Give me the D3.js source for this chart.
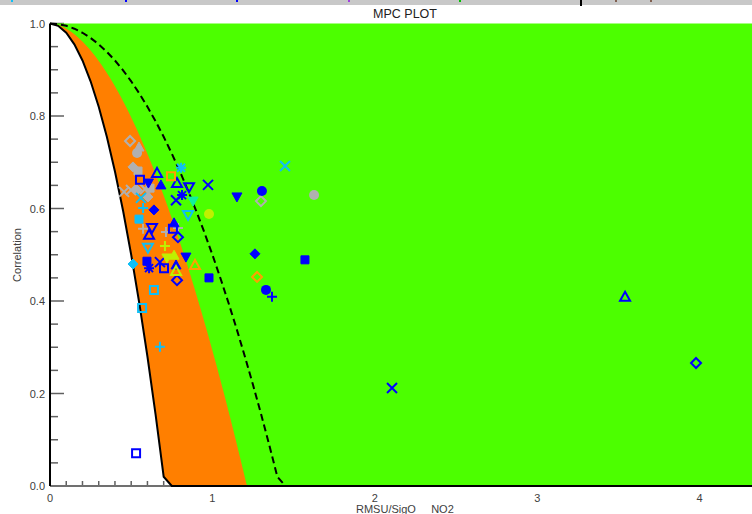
<!DOCTYPE html>
<html>
<head>
<meta charset="utf-8">
<script src="https://cdn.jsdelivr.net/npm/d3@7"></script>
<style>
  html, body { margin: 0; padding: 0; background: #fff; }
  svg { display: block; font-family: "Liberation Sans", Arial, sans-serif; }
</style>
</head>
<body>
<svg id="chart" width="752" height="514"></svg>
<script>
// ---- data: one entry per monitoring site ----
// x = RMSU / SigO (normalised uncertainty), y = correlation
const rmsuRatio = [
  0.493, 0.548, 0.536, 0.511, 0.542, 0.456, 0.499, 0.536, 0.585, 0.616, 0.603, 0.573, 0.714, 0.788, 1.299, 1.626,
  0.659, 0.554, 0.606, 0.683, 0.782, 0.856, 0.973, 1.151, 0.776, 0.813, 1.305, 0.640, 0.628, 0.610, 0.764, 0.757,
  0.788, 0.597, 0.610, 0.677, 0.702, 0.776, 0.782, 0.837, 0.979, 1.262, 1.570, 1.330, 1.367, 2.106, 3.541, 3.978, 0.530,
  0.807, 1.447, 0.560, 0.573, 0.548, 0.850, 0.603, 0.511, 0.640, 0.567, 0.677,
  0.745, 0.893, 1.275,
  0.881,
  0.979, 0.708, 0.720, 0.764, 0.776
];
const correlation = [
  0.746, 0.733, 0.720, 0.690, 0.681, 0.636, 0.640, 0.640, 0.642, 0.644, 0.625, 0.556, 0.549, 0.558, 0.616, 0.629,
  0.677, 0.662, 0.655, 0.651, 0.655, 0.646, 0.651, 0.625, 0.618, 0.629, 0.638, 0.597, 0.558, 0.543, 0.569, 0.556,
  0.538, 0.486, 0.471, 0.484, 0.471, 0.478, 0.445, 0.495, 0.450, 0.502, 0.489, 0.424, 0.409, 0.212, 0.409, 0.266, 0.071,
  0.688, 0.692, 0.623, 0.601, 0.577, 0.586, 0.515, 0.480, 0.424, 0.385, 0.301,
  0.670, 0.478, 0.452,
  0.616,
  0.588, 0.519, 0.493, 0.499, 0.465
];
const siteSymbol = [
  "diamond", "triangleF", "circleF", "diamondF", "squareF", "x", "x", "diamondF", "x", "squareF", "diamondF", "plus", "plus", "plus", "diamond", "circleF",
  "triangle", "square", "downF", "triangleF", "triangle", "down", "x", "downF", "x", "asterisk", "circleF", "diamondF", "down", "triangle", "triangleF", "square",
  "diamond", "squareF", "asterisk", "x", "square", "triangleF", "diamond", "downF", "squareF", "diamondF", "squareF", "circleF", "plus", "x", "triangle", "diamond", "square",
  "asterisk", "x", "x", "plus", "squareF", "down", "down", "diamondF", "square", "square", "plus",
  "square", "triangle", "diamond",
  "downF",
  "circleF", "plus", "downF", "triangleF", "triangle"
];
const siteGroup = [
  0, 0, 0, 0, 0, 0, 0, 0, 0, 0, 0, 0, 0, 0, 0, 0,
  1, 1, 1, 1, 1, 1, 1, 1, 1, 1, 1, 1, 1, 1, 1, 1,
  1, 1, 1, 1, 1, 1, 1, 1, 1, 1, 1, 1, 1, 1, 1, 1, 1,
  2, 2, 2, 2, 2, 2, 2, 2, 2, 2, 2,
  3, 3, 3,
  4,
  5, 5, 5, 5, 5
];
const yTickValues = [0, 0.2, 0.4, 0.6, 0.8, 1.0];
const xTickValues = [0, 1, 2, 3, 4];
// Quality criteria curves: R = 1 - k * (RMSU/SigO)^p
const limitCurve = { k: 2.0, p: 2 };     // solid boundary
const targetCurve = { k: 0.707, p: 1.8 }; // edge of orange band
const dashedCurve = { k: 0.5, p: 2 };    // dashed reference

// ---- styles ----
const groupColour = ["#b0b0b0", "#0000ff", "#10bff5", "#ffa000", "#10f0a0", "#bff000"];
const GREEN = "#4cff00", ORANGE = "#ff7f00";

const svg = d3.select("#chart");
const xMax = 4.4;
const x = d3.scaleLinear().domain([0, xMax]).range([50, 50 + xMax * 162.4]);
const y = d3.scaleLinear().domain([0, 1]).range([486, 23.5]);

// top strip of the window
svg.append("rect").attr("x", 0).attr("y", 0).attr("width", 752).attr("height", 5).attr("fill", "#c8c8c8");
[[11, "#10bff5"], [125, "#0000ff"], [236, "#0000ff"], [348, "#a040e0"], [459, "#00c000"], [615, "#806050"], [650, "#806050"]]
  .forEach(([px, c]) => svg.append("rect").attr("x", px).attr("y", 0).attr("width", 2).attr("height", 2).attr("fill", c));
svg.append("rect").attr("x", 580).attr("y", 0).attr("width", 2).attr("height", 6).attr("fill", "#000");

// title
svg.append("text").attr("x", 405).attr("y", 18).attr("text-anchor", "middle")
  .attr("font-size", 12.5).attr("fill", "#202020").text("MPC PLOT");

// ---- axes (drawn first, fills paint over them) ----
const tickCol = "#606060";
const axes = svg.append("g");
d3.range(0, 1.0001, 0.05).forEach(v => {
  const major = Math.abs(v * 5 - Math.round(v * 5)) < 1e-6;
  axes.append("line").attr("x1", 50).attr("x2", 50 + (major ? 14 : 8))
    .attr("y1", y(v)).attr("y2", y(v)).attr("stroke", tickCol).attr("stroke-width", 1.5);
});
d3.range(0.1, xMax, 0.1).forEach(v => {
  const major = Math.abs(v - Math.round(v)) < 1e-6;
  axes.append("line").attr("x1", x(v)).attr("x2", x(v))
    .attr("y1", y(0)).attr("y2", y(0) - (major ? 14 : 5)).attr("stroke", tickCol).attr("stroke-width", 1.5);
});
axes.append("line").attr("x1", 50).attr("x2", 752).attr("y1", y(0)).attr("y2", y(0))
  .attr("stroke", "#707070").attr("stroke-width", 2);

// tick labels
svg.append("g").selectAll("text").data(yTickValues).join("text")
  .attr("x", 45).attr("y", d => y(d) + 4).attr("text-anchor", "end")
  .attr("font-size", 11).attr("fill", "#404040").text(d => d.toFixed(1));
svg.append("g").selectAll("text").data(xTickValues).join("text")
  .attr("x", d => x(d)).attr("y", 502).attr("text-anchor", "middle")
  .attr("font-size", 11).attr("fill", "#404040").text(d => d);

svg.append("text").attr("x", 356).attr("y", 513).attr("font-size", 11).attr("fill", "#404040")
  .attr("xml:space", "preserve").style("white-space", "pre").text("RMSU/SigO     NO2");
svg.append("text").attr("transform", "translate(21,255) rotate(-90)").attr("text-anchor", "middle")
  .attr("font-size", 11).attr("fill", "#404040").text("Correlation");

// ---- criteria curves ----
const curve = (c, step) => d3.range(0, xMax + step / 2, step)
  .map(v => [v, Math.max(0, 1 - c.k * Math.pow(v, c.p))]);
const limitPts = curve(limitCurve, 0.05);
const targetPts = curve(targetCurve, 0.01);
const dashedPts = curve(dashedCurve, 0.05);
const line = d3.line().x(d => x(d[0])).y(d => y(d[1]));

// green: everything to the right of the solid curve
svg.append("path").attr("d", line(limitPts.concat([[xMax, 1]])) + "Z").attr("fill", GREEN);
// orange band between the solid curve and the target curve
const band = limitPts.filter(d => d[0] <= 1.3).concat(targetPts.filter(d => d[0] <= 1.3).reverse());
svg.append("path").attr("d", line(band) + "Z").attr("fill", ORANGE);

svg.append("line").attr("x1", 50).attr("x2", 50).attr("y1", y(1)).attr("y2", y(0))
  .attr("stroke", "#000").attr("stroke-width", 2);

svg.append("path").attr("d", line(dashedPts.filter(d => d[0] <= 1.5))).attr("fill", "none")
  .attr("stroke", "#000").attr("stroke-width", 2).attr("stroke-dasharray", "7,4");
svg.append("path").attr("d", line(limitPts)).attr("fill", "none")
  .attr("stroke", "#000").attr("stroke-width", 2);

// ---- markers ----
const shapes = {
  plus: "M-5,0H5M0,-5V5",
  x: "M-5,-5L5,5M-5,5L5,-5",
  asterisk: "M-5,0H5M0,-5V5M-4,-4L4,4M-4,4L4,-4",
  diamond: "M0,-5L5,0L0,5L-5,0Z",
  triangle: "M0,-5L5,4L-5,4Z",
  down: "M-5,-4L5,-4L0,5Z",
  square: "M-4,-4H4V4H-4Z"
};
const markers = svg.append("g");
rmsuRatio.forEach((rx, i) => {
  const s = siteSymbol[i], col = groupColour[siteGroup[i]];
  const g = markers.append("g").attr("transform", `translate(${x(rx)},${y(correlation[i])})`);
  if (s === "circleF") {
    g.append("circle").attr("r", 5).attr("fill", col);
  } else if (s.endsWith("F")) {
    g.append("path").attr("d", shapes[s.slice(0, -1)]).attr("fill", col).attr("stroke", col).attr("stroke-width", 1);
  } else {
    g.append("path").attr("d", shapes[s]).attr("fill", "none").attr("stroke", col).attr("stroke-width", 2);
  }
});
</script>
</body>
</html>
